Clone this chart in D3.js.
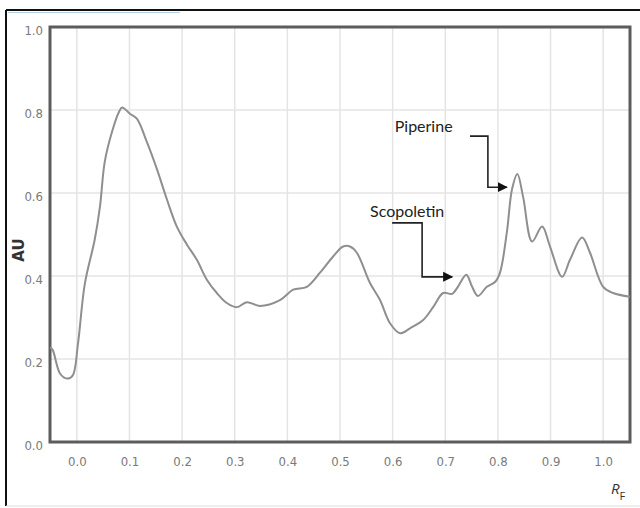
<!DOCTYPE html>
<html>
<head>
<meta charset="utf-8">
<script src="https://cdn.jsdelivr.net/npm/d3@7"></script>
<style>
  body { margin: 0; background: #fff; }
  svg { display: block; }
</style>
</head>
<body>
<div id="chart"></div>
<script>
// Chromatogram data (Rf vs AU)
const rf = [-0.051, -0.046, -0.032, -0.019, -0.008, 0.002, 0.015, 0.034, 0.044, 0.053, 0.067, 0.080, 0.086,
  0.101, 0.114, 0.133, 0.152, 0.171, 0.190, 0.209, 0.228, 0.247, 0.266, 0.285, 0.304, 0.323, 0.348, 0.386,
  0.411, 0.437, 0.462, 0.487, 0.506, 0.519, 0.532, 0.557, 0.576, 0.595, 0.614, 0.633, 0.658, 0.677, 0.696,
  0.713, 0.724, 0.740, 0.751, 0.762, 0.779, 0.795, 0.804, 0.817, 0.827, 0.837, 0.848, 0.865, 0.884, 0.899,
  0.922, 0.937, 0.960, 0.975, 1.000, 1.019, 1.051];
const au = [0.228, 0.222, 0.165, 0.153, 0.160, 0.235, 0.380, 0.488, 0.568, 0.675, 0.748, 0.795, 0.806,
  0.791, 0.779, 0.723, 0.658, 0.585, 0.519, 0.476, 0.439, 0.391, 0.359, 0.335, 0.325, 0.337, 0.328, 0.342,
  0.367, 0.374, 0.408, 0.447, 0.471, 0.471, 0.456, 0.383, 0.342, 0.286, 0.262, 0.274, 0.294, 0.325, 0.359,
  0.357, 0.374, 0.403, 0.374, 0.352, 0.374, 0.386, 0.408, 0.505, 0.610, 0.646, 0.590, 0.483, 0.519, 0.471,
  0.398, 0.439, 0.493, 0.456, 0.374, 0.359, 0.350];

const xTicks = [0.0, 0.1, 0.2, 0.3, 0.4, 0.5, 0.6, 0.7, 0.8, 0.9, 1.0];
const yTicks = [0.0, 0.2, 0.4, 0.6, 0.8, 1.0];

// Annotations: label position and elbow arrow path, in data units
const annotations = [
  { name: "Piperine", label: [0.604, 0.747], path: [[0.747, 0.737], [0.781, 0.737], [0.781, 0.614], [0.817, 0.614]] },
  { name: "Scopoletin", label: [0.557, 0.542], path: [[0.599, 0.528], [0.656, 0.528], [0.656, 0.398], [0.713, 0.398]] }
];

const width = 640, height = 508;
const plotLeft = 50, plotRight = 630, plotTop = 27, plotBottom = 442;

const svg = d3.select("#chart").append("svg")
  .attr("width", width)
  .attr("height", height);

// outer frame left over from the scan
svg.append("line").attr("x1", 6).attr("x2", 640).attr("y1", 10).attr("y2", 10)
  .attr("stroke", "#111").attr("stroke-width", 2);
svg.append("line").attr("x1", 8).attr("x2", 180).attr("y1", 12.5).attr("y2", 12.5)
  .attr("stroke", "#b3d0e6").attr("stroke-width", 1.2);
svg.append("line").attr("x1", 6).attr("x2", 6).attr("y1", 10).attr("y2", 506)
  .attr("stroke", "#111").attr("stroke-width", 2);
svg.append("line").attr("x1", 6).attr("x2", 640).attr("y1", 506).attr("y2", 506)
  .attr("stroke", "#ddd").attr("stroke-width", 1);

const x = d3.scaleLinear().domain([-0.051, 1.051]).range([plotLeft, plotRight]);
const y = d3.scaleLinear().domain([0, 1]).range([plotBottom, plotTop]);

// gridlines
svg.append("g")
  .selectAll("line")
  .data(xTicks)
  .join("line")
  .attr("x1", d => x(d)).attr("x2", d => x(d))
  .attr("y1", plotTop).attr("y2", plotBottom)
  .attr("stroke", "#e4e4e4").attr("stroke-width", 1.5);

svg.append("g")
  .selectAll("line")
  .data(yTicks.slice(1, -1))
  .join("line")
  .attr("x1", plotLeft).attr("x2", plotRight)
  .attr("y1", d => y(d)).attr("y2", d => y(d))
  .attr("stroke", "#e4e4e4").attr("stroke-width", 1.5);

// axes (labels only, the frame is drawn separately)
const tickFont = "'Liberation Sans Narrow', 'DejaVu Sans Condensed', 'DejaVu Sans', sans-serif";

const xAxis = svg.append("g")
  .attr("transform", `translate(0,${plotBottom})`)
  .call(d3.axisBottom(x).tickValues(xTicks).tickFormat(d3.format(".1f")).tickSize(0).tickPadding(15));
const yAxis = svg.append("g")
  .attr("transform", `translate(${plotLeft},0)`)
  .call(d3.axisLeft(y).tickValues(yTicks).tickFormat(d3.format(".1f")).tickSize(0).tickPadding(7));

[xAxis, yAxis].forEach(g => {
  g.select(".domain").remove();
  g.selectAll("text")
    .attr("fill", "#7a7a7a")
    .style("font-family", tickFont)
    .style("font-stretch", "condensed")
    .style("font-size", "13px");
});
yAxis.selectAll("text").attr("dy", "0.75em").attr("y", -2);

// plot frame
svg.append("rect")
  .attr("x", plotLeft).attr("y", plotTop)
  .attr("width", plotRight - plotLeft).attr("height", plotBottom - plotTop)
  .attr("fill", "none")
  .attr("stroke", "#5c5c5c")
  .attr("stroke-width", 3);

// the trace
const line = d3.line()
  .x(i => x(rf[i]))
  .y(i => y(au[i]))
  .curve(d3.curveCatmullRom.alpha(0.5));

svg.append("path")
  .datum(d3.range(rf.length))
  .attr("d", line)
  .attr("fill", "none")
  .attr("stroke", "#8f8f8f")
  .attr("stroke-width", 2);

// axis titles
svg.append("text")
  .attr("transform", "translate(24,250) rotate(-90)")
  .attr("text-anchor", "middle")
  .style("font-family", "'DejaVu Sans', sans-serif")
  .style("font-weight", "bold")
  .style("font-size", "15px")
  .attr("fill", "#333")
  .text("AU");

const rfLabel = svg.append("text")
  .attr("x", 611).attr("y", 494)
  .style("font-family", "'Open Sans', sans-serif")
  .attr("fill", "#333");
rfLabel.append("tspan").style("font-style", "italic").style("font-size", "15px").text("R");
rfLabel.append("tspan").attr("dy", 6).style("font-size", "11px").text("F");

// arrow annotations
svg.append("defs").append("marker")
  .attr("id", "head")
  .attr("viewBox", "0 0 10 10")
  .attr("refX", 9).attr("refY", 5)
  .attr("markerWidth", 10).attr("markerHeight", 12)
  .attr("markerUnits", "userSpaceOnUse")
  .attr("orient", "auto")
  .append("path")
  .attr("d", "M0,0L10,5L0,10Z")
  .attr("fill", "#111");

const ann = svg.append("g");
annotations.forEach(a => {
  ann.append("path")
    .attr("d", d3.line().x(p => x(p[0])).y(p => y(p[1]))(a.path))
    .attr("fill", "none")
    .attr("stroke", "#222")
    .attr("stroke-width", 1.6)
    .attr("marker-end", "url(#head)");
  ann.append("text")
    .attr("x", x(a.label[0])).attr("y", y(a.label[1]))
    .style("font-family", "Lato, sans-serif")
    .style("font-size", "16px")
    .attr("fill", "#222")
    .text(a.name);
});
</script>
</body>
</html>
